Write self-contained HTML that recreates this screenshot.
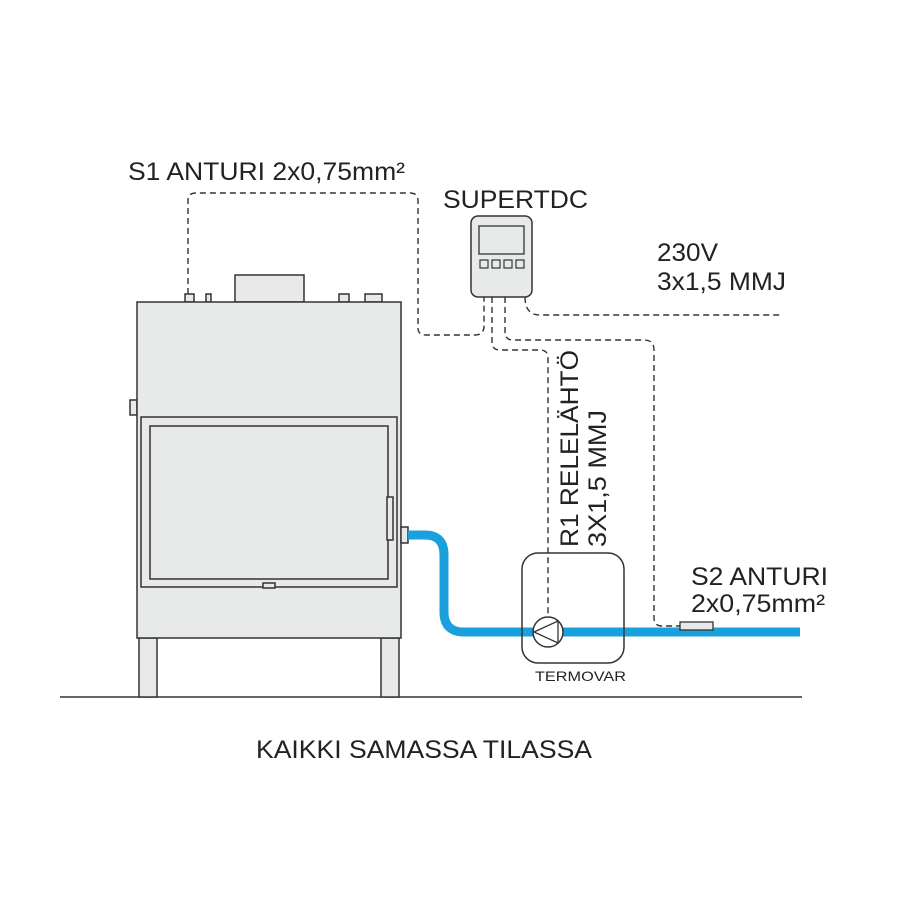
<!DOCTYPE html>
<html><head><style>html,body{margin:0;padding:0;background:#fff}svg{display:block}</style></head>
<body>
<svg width="900" height="900" viewBox="0 0 900 900" xmlns="http://www.w3.org/2000/svg" font-family="Liberation Sans, Arial, sans-serif" fill="#222">
<rect width="900" height="900" fill="#fff"/>
<line x1="60" y1="697" x2="802" y2="697" stroke="#333" stroke-width="1.5"/>
<g fill="#e8eaea" stroke="#333" stroke-width="1.5">
<rect x="139" y="638" width="18" height="59"/>
<rect x="381" y="638" width="18" height="59"/>
<rect x="235" y="275" width="69" height="27"/>
<rect x="185" y="294" width="9" height="8"/>
<rect x="206" y="294" width="5" height="8"/>
<rect x="339" y="294" width="10" height="8"/>
<rect x="365" y="294" width="17" height="8"/>
<rect x="130" y="400" width="7" height="15"/>
<rect x="137" y="302" width="264" height="336"/>
<rect x="141" y="417" width="256" height="170"/>
<rect x="150" y="426" width="238" height="153"/>
<rect x="387" y="497" width="6" height="43"/>
<rect x="263" y="583" width="12" height="5"/>
<rect x="401" y="527" width="7" height="16"/>
</g>
<path d="M408 535 H425 Q444 535 444 555 V612 Q444 632 464 632 H800" fill="none" stroke="#1aa0dc" stroke-width="9"/>
<rect x="522" y="553" width="102" height="110" rx="16" fill="none" stroke="#333" stroke-width="1.5"/>
<circle cx="548" cy="632" r="15" fill="#fff" stroke="#333" stroke-width="1.5"/>
<path d="M534 632 L558 621 L558 643 Z" fill="none" stroke="#333" stroke-width="1.3"/>
<rect x="680" y="622" width="33" height="8" fill="#e8eaea" stroke="#333" stroke-width="1.3"/>
<rect x="471" y="216" width="61" height="81" rx="7" fill="#e8eaea" stroke="#333" stroke-width="1.5"/>
<rect x="479" y="226" width="45" height="28" fill="#e8eaea" stroke="#333" stroke-width="1.3"/>
<g fill="#e8eaea" stroke="#333" stroke-width="1.2">
<rect x="480" y="260" width="8" height="8"/><rect x="492" y="260" width="8" height="8"/>
<rect x="504" y="260" width="8" height="8"/><rect x="516" y="260" width="8" height="8"/>
</g>
<g fill="none" stroke="#333" stroke-width="1.4" stroke-dasharray="6,4">
<path d="M188 294 V200 Q188 193 196 193 H410 Q418 193 418 201 V328 Q418 335 426 335 H475 Q484 335 484 326 V297"/>
<path d="M492 297 V342 Q492 350 500 350 H540 Q548 350 548 358 V617"/>
<path d="M505 297 V332 Q505 340 513 340 H644 Q654 340 654 350 V618 Q654 626 662 626 H680"/>
<path d="M525 297 Q525 315 540 315 H780"/>
</g>
<text x="128" y="180" font-size="25" textLength="277" lengthAdjust="spacingAndGlyphs">S1 ANTURI 2x0,75mm²</text>
<text x="443" y="208" font-size="25" textLength="145" lengthAdjust="spacingAndGlyphs">SUPERTDC</text>
<text x="657" y="261" font-size="25" textLength="61" lengthAdjust="spacingAndGlyphs">230V</text>
<text x="657" y="290" font-size="25" textLength="129" lengthAdjust="spacingAndGlyphs">3x1,5 MMJ</text>
<text transform="translate(578,547) rotate(-90)" font-size="25" textLength="197" lengthAdjust="spacingAndGlyphs">R1 RELELÄHTÖ</text>
<text transform="translate(606,547) rotate(-90)" font-size="25" textLength="137" lengthAdjust="spacingAndGlyphs">3X1,5 MMJ</text>
<text x="691" y="585" font-size="25" textLength="137" lengthAdjust="spacingAndGlyphs">S2 ANTURI</text>
<text x="691" y="612" font-size="25" textLength="134" lengthAdjust="spacingAndGlyphs">2x0,75mm²</text>
<text x="535" y="681" font-size="14" textLength="91" lengthAdjust="spacingAndGlyphs">TERMOVAR</text>
<text x="256" y="758" font-size="25" textLength="336" lengthAdjust="spacingAndGlyphs">KAIKKI SAMASSA TILASSA</text>
</svg>
</body></html>
